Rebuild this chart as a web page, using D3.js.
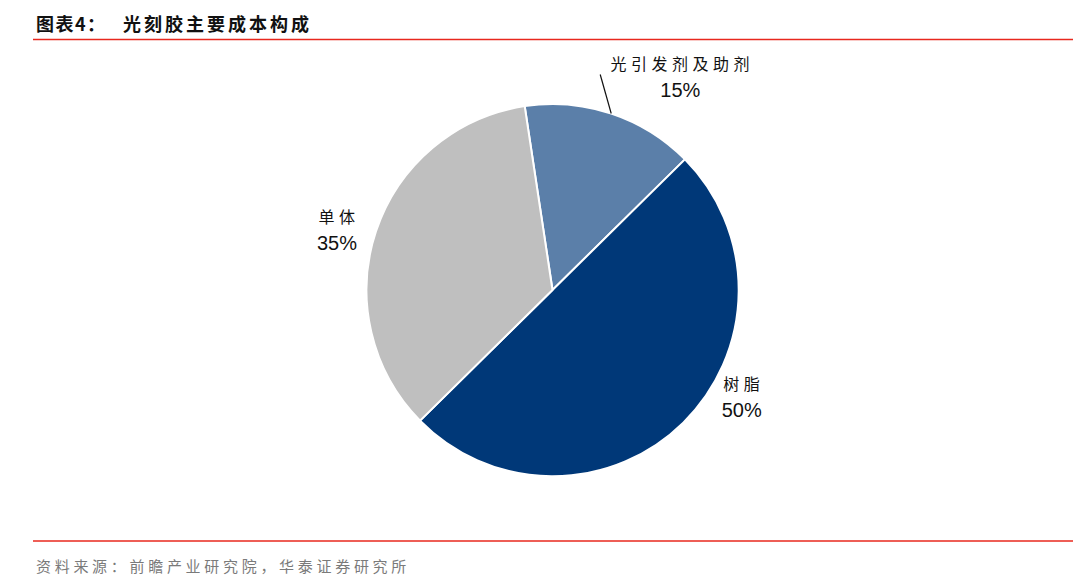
<!DOCTYPE html>
<html><head><meta charset="utf-8">
<script src="https://cdn.jsdelivr.net/npm/d3@7"></script>
<style>body{margin:0;background:#fff}svg{display:block}</style>
</head><body><svg id="c" width="1080" height="583"></svg>
<script>
const categories = ["光引发剂及助剂", "树脂", "单体"];
const values = [15, 50, 35];
const percentLabels = ["15%", "50%", "35%"];
const colors = ["#5B7FA9", "#003878", "#BFBFBF"];

const W = 1080, H = 583;
const svg = d3.select("#c");
const cx = 552.5, cy = 290, R = 186;
const cjk = "'Noto Sans CJK SC', sans-serif";

// title
svg.append("text").attr("x", 36).attr("y", 31)
  .attr("font-family", cjk).attr("font-weight", "bold").attr("font-size", 18).attr("letter-spacing", 1.5).attr("fill", "#111")
  .text("图表4：");
svg.append("text").attr("x", 123).attr("y", 31)
  .attr("font-family", cjk).attr("font-weight", "bold").attr("font-size", 18).attr("letter-spacing", 3).attr("fill", "#111")
  .text("光刻胶主要成本构成");
svg.append("line").attr("x1", 33).attr("x2", 1073).attr("y1", 39.5).attr("y2", 39.5)
  .attr("stroke", "#E8281E").attr("stroke-width", 1.6);
svg.append("line").attr("x1", 33).attr("x2", 1073).attr("y1", 541).attr("y2", 541)
  .attr("stroke", "#E8281E").attr("stroke-width", 1.6);
svg.append("text").attr("x", 36).attr("y", 572)
  .attr("font-family", cjk).attr("font-size", 15).attr("letter-spacing", 3.7).attr("fill", "#7a7a7a")
  .text("资料来源：前瞻产业研究院，华泰证券研究所");

const startAngle = -8.6 * Math.PI / 180;
const pie = d3.pie().sort(null).startAngle(startAngle).endAngle(startAngle + 2 * Math.PI);
const arcs = pie(values);
const arc = d3.arc().innerRadius(0).outerRadius(R);
const g = svg.append("g").attr("transform", `translate(${cx},${cy})`);
g.selectAll("path").data(arcs).enter().append("path")
  .attr("d", arc).attr("fill", (d, i) => colors[i])
  .attr("stroke", "#fff").attr("stroke-width", 2).attr("stroke-linejoin", "round");

// label layout: angle (deg from top) and radius for each label block centre
const labelLayout = [
  { ang: 30.9, r: 249, leader: true },
  { ang: 119.3, r: 217 },
  { ang: 285.8, r: 224 }
];
arcs.forEach((d, i) => {
  const L = labelLayout[i];
  const a = L.ang * Math.PI / 180;
  const lx = L.r * Math.sin(a), ly = -L.r * Math.cos(a);
  const t = g.append("text").attr("text-anchor", "middle");
  t.append("tspan").attr("x", lx + 2).attr("y", ly - 6)
    .attr("font-family", cjk).attr("font-size", 16).attr("letter-spacing", 4.5).attr("fill", "#111")
    .text(categories[i]);
  t.append("tspan").attr("x", lx).attr("y", ly + 21)
    .attr("font-family", "'Liberation Sans', Arial, sans-serif").attr("font-size", 20).attr("fill", "#111")
    .text(percentLabels[i]);
  if (L.leader) {
    const mid = (d.startAngle + d.endAngle) / 2;
    const px = R * Math.sin(mid), py = -R * Math.cos(mid);
    g.append("line").attr("x1", px).attr("y1", py)
      .attr("x2", px - 11).attr("y2", py - 39)
      .attr("stroke", "#111").attr("stroke-width", 1.2);
  }
});
</script></body></html>
